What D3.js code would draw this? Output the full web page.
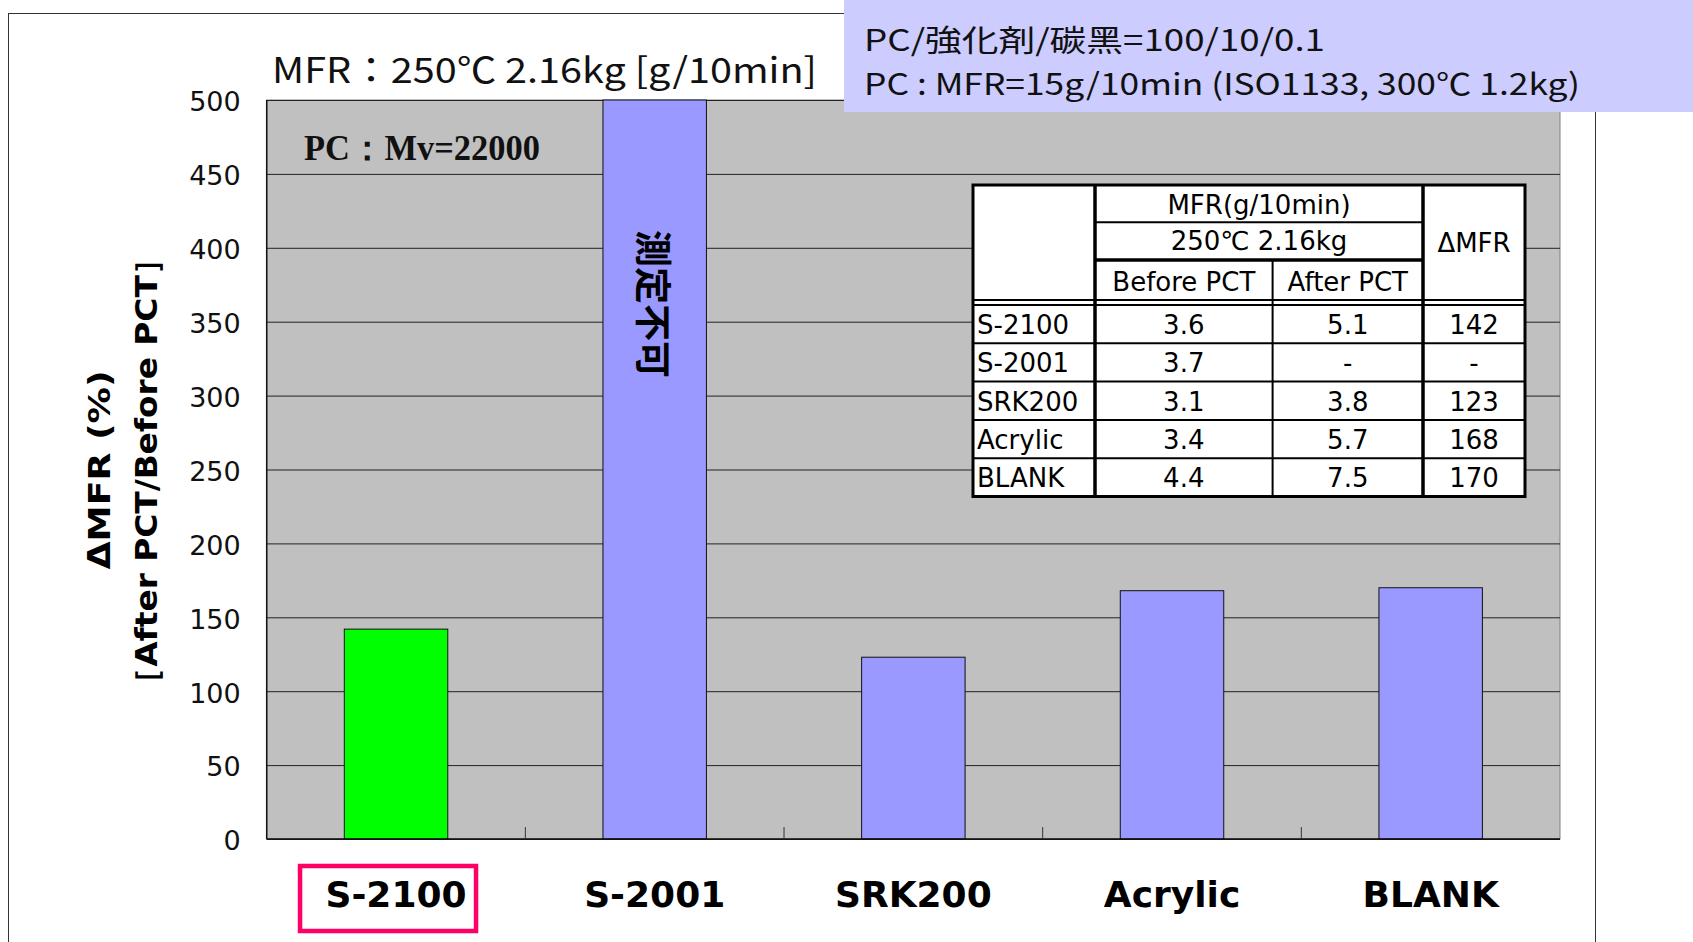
<!DOCTYPE html>
<html>
<head>
<meta charset="utf-8">
<script src="https://cdn.jsdelivr.net/npm/d3@7"></script>
<style>
  body { margin: 0; background: #fff; }
  svg { display: block; }
</style>
</head>
<body>
<div id="chart"></div>
<script>
// chart data
var categories = ['S-2100', 'S-2001', 'SRK200', 'Acrylic', 'BLANK'];
var deltaMfr = [142, null, 123, 168, 170];   // null = could not be measured
var yTicks = [0, 50, 100, 150, 200, 250, 300, 350, 400, 450, 500];

// inset table
var beforePct = ['3.6', '3.7', '3.1', '3.4', '4.4'];
var afterPct = ['5.1', '-', '3.8', '5.7', '7.5'];
var deltaText = ['142', '-', '123', '168', '170'];

var W = 1693, H = 942;
var margin = { top: 100, right: 133, bottom: 103, left: 266.7 },
  w = W - margin.left - margin.right,
  h = H - margin.top - margin.bottom;

var svg = d3.select('#chart').append('svg')
  .attr('width', W)
  .attr('height', H);

// outer frame
svg.append('rect')
  .attr('x', 8.5).attr('y', 13.5)
  .attr('width', 1587).attr('height', 960)
  .attr('fill', '#fff')
  .attr('stroke', '#333')
  .attr('stroke-width', 1);

var g = svg.append('g')
  .attr('transform', 'translate(' + margin.left + ',' + margin.top + ')');

var x = d3.scaleBand().domain(categories).range([0, w])
  .paddingInner(0.6).paddingOuter(0.3);
var y = d3.scaleLinear().domain([0, 500]).range([h, 0]);

// plot background
g.append('rect')
  .attr('width', w).attr('height', h)
  .attr('fill', '#c0c0c0')
  .attr('stroke', '#808080');

// gridlines + y tick labels
var yAxis = d3.axisLeft(y).tickValues(yTicks).tickSize(-w).tickPadding(26);
g.append('g')
  .call(yAxis)
  .call(function(s) {
    s.select('.domain').remove();
    s.selectAll('line').attr('stroke', '#222');
    s.selectAll('text')
      .attr('font-family', 'DejaVu Sans, Verdana, sans-serif')
      .attr('font-size', 27)
      .attr('dy', '0.4em')
      .attr('fill', '#111');
  });

// bars
g.selectAll('.bar')
  .data(categories)
  .enter().append('rect')
  .attr('class', 'bar')
  .attr('x', function(d) { return x(d); })
  .attr('width', x.bandwidth())
  .attr('y', function(d, i) { return deltaMfr[i] == null ? y(500) : y(deltaMfr[i]); })
  .attr('height', function(d, i) { return h - (deltaMfr[i] == null ? y(500) : y(deltaMfr[i])); })
  .attr('fill', function(d, i) { return i === 0 ? '#00ff00' : '#9999ff'; })
  .attr('stroke', '#111')
  .attr('stroke-width', 1);

// vertical note on the unmeasurable bar
categories.forEach(function(c, i) {
  if (deltaMfr[i] != null) return;
  g.append('text')
    .attr('transform', 'translate(' + (x(c) + x.bandwidth() / 2) + ',' + (y(500) + 130) + ') rotate(90)')
    .attr('dominant-baseline', 'central')
    .attr('font-family', 'Noto Sans CJK JP, sans-serif')
    .attr('font-weight', 'bold')
    .attr('font-size', 37)
    .attr('fill', '#000')
    .text('測定不可');
});

// axis lines
g.append('line').attr('x1', 0).attr('x2', 0).attr('y1', 0).attr('y2', h)
  .attr('stroke', '#111').attr('stroke-width', 1.5);
g.append('line').attr('x1', 0).attr('x2', w).attr('y1', h).attr('y2', h)
  .attr('stroke', '#111').attr('stroke-width', 1.5);

// category boundary ticks (pointing up)
d3.range(1, categories.length).forEach(function(k) {
  var bx = k * x.step();
  g.append('line').attr('x1', bx).attr('x2', bx).attr('y1', h).attr('y2', h - 12)
    .attr('stroke', '#333').attr('stroke-width', 1);
});

// x labels
var xAxis = d3.axisBottom(x).tickSize(0).tickPadding(42);
g.append('g')
  .attr('transform', 'translate(0,' + h + ')')
  .call(xAxis)
  .call(function(s) {
    s.select('.domain').remove();
    s.selectAll('text')
      .attr('font-family', 'DejaVu Sans, Verdana, sans-serif')
      .attr('font-weight', 'bold')
      .attr('font-size', 36)
      .attr('fill', '#000');
  });

// highlight box round the first label
var c0 = x(categories[0]) + x.bandwidth() / 2;
g.append('rect')
  .attr('x', c0 - 96).attr('y', h + 27)
  .attr('width', 176).attr('height', 65)
  .attr('fill', 'none')
  .attr('stroke', '#ff0066')
  .attr('stroke-width', 4.5);

// y axis title
var yTitle = svg.append('g')
  .attr('font-family', 'DejaVu Sans, Verdana, sans-serif')
  .attr('font-weight', 'bold')
  .attr('font-size', 31)
  .attr('fill', '#000');
yTitle.append('text')
  .attr('transform', 'translate(99,470) rotate(-90)')
  .attr('text-anchor', 'middle').attr('dominant-baseline', 'central')
  .attr('textLength', 199).attr('lengthAdjust', 'spacingAndGlyphs')
  .text('ΔMFR (%)');
yTitle.append('text')
  .attr('transform', 'translate(146,471) rotate(-90)')
  .attr('text-anchor', 'middle').attr('dominant-baseline', 'central')
  .attr('textLength', 457).attr('lengthAdjust', 'spacingAndGlyphs')
  .text('［After PCT/Before PCT］');

// chart title
svg.append('text')
  .attr('x', 272).attr('y', 83)
  .attr('font-family', 'Noto Sans CJK JP, sans-serif')
  .attr('font-size', 35)
  .attr('textLength', 545).attr('lengthAdjust', 'spacingAndGlyphs')
  .attr('fill', '#111')
  .text('MFR：250℃ 2.16kg [g/10min]');

// polymer note
svg.append('text')
  .attr('x', 304).attr('y', 160)
  .attr('font-family', 'Liberation Serif, Times New Roman, serif')
  .attr('font-weight', 'bold')
  .attr('font-size', 35)
  .attr('textLength', 236).attr('lengthAdjust', 'spacingAndGlyphs')
  .attr('fill', '#111')
  .text('PC：Mv=22000');

// formulation box (top right)
svg.append('rect')
  .attr('x', 844).attr('y', 0).attr('width', 849).attr('height', 112)
  .attr('fill', '#ccccff');
svg.append('text')
  .attr('x', 864).attr('y', 51)
  .attr('font-family', 'Noto Sans CJK JP, sans-serif')
  .attr('font-size', 30)
  .attr('textLength', 461).attr('lengthAdjust', 'spacingAndGlyphs')
  .attr('fill', '#111')
  .text('PC/強化剤/碳黑=100/10/0.1');
svg.append('text')
  .attr('x', 864).attr('y', 95)
  .attr('font-family', 'Noto Sans CJK JP, sans-serif')
  .attr('font-size', 30)
  .attr('textLength', 716).attr('lengthAdjust', 'spacingAndGlyphs')
  .attr('fill', '#111')
  .text('PC : MFR=15g/10min (ISO1133, 300℃  1.2kg)');

// inset table
var cx = [973, 1095, 1272.6, 1423, 1525];
var headRows = [185, 222.3, 260, 300];
var bodyTop = 305, rowH = 38.3;
var tBottom = bodyTop + rowH * categories.length;
var tbl = svg.append('g')
  .attr('font-family', 'DejaVu Sans, Verdana, sans-serif')
  .attr('font-size', 26)
  .attr('fill', '#000');

tbl.append('rect')
  .attr('x', cx[0]).attr('y', headRows[0])
  .attr('width', cx[4] - cx[0]).attr('height', tBottom - headRows[0])
  .attr('fill', '#fff');

function tline(x1, y1, x2, y2, sw) {
  tbl.append('line')
    .attr('x1', x1).attr('y1', y1).attr('x2', x2).attr('y2', y2)
    .attr('stroke', '#000').attr('stroke-width', sw);
}
// header lines
tline(cx[1], headRows[1], cx[3], headRows[1], 2);
tline(cx[1], headRows[2], cx[3], headRows[2], 3.5);
tline(cx[0], headRows[3], cx[4], headRows[3], 2);
tline(cx[0], bodyTop, cx[4], bodyTop, 2);
// body row lines
categories.forEach(function(c, i) {
  if (i > 0) tline(cx[0], bodyTop + i * rowH, cx[4], bodyTop + i * rowH, 2);
});
// verticals
tline(cx[1], headRows[0], cx[1], tBottom, 3.5);
tline(cx[2], headRows[2], cx[2], tBottom, 2);
tline(cx[3], headRows[0], cx[3], tBottom, 3.5);
// outer border
tbl.append('rect')
  .attr('x', cx[0]).attr('y', headRows[0])
  .attr('width', cx[4] - cx[0]).attr('height', tBottom - headRows[0])
  .attr('fill', 'none').attr('stroke', '#000').attr('stroke-width', 3);

function cell(tx, ty, s, anchor) {
  tbl.append('text')
    .attr('x', tx).attr('y', ty)
    .attr('text-anchor', anchor || 'middle')
    .attr('dominant-baseline', 'central')
    .text(s);
}
cell((cx[1] + cx[3]) / 2, (headRows[0] + headRows[1]) / 2 + 1, 'MFR(g/10min)');
cell((cx[1] + cx[3]) / 2, (headRows[1] + headRows[2]) / 2, '250℃ 2.16kg');
cell((cx[1] + cx[2]) / 2, (headRows[2] + headRows[3]) / 2 + 2, 'Before PCT');
cell((cx[2] + cx[3]) / 2, (headRows[2] + headRows[3]) / 2 + 2, 'After PCT');
cell((cx[3] + cx[4]) / 2, (headRows[0] + headRows[3]) / 2, 'ΔMFR');

categories.forEach(function(c, i) {
  var ry = bodyTop + i * rowH + rowH / 2 + 1;
  cell(cx[0] + 4, ry, c, 'start');
  cell((cx[1] + cx[2]) / 2, ry, beforePct[i]);
  cell((cx[2] + cx[3]) / 2, ry, afterPct[i]);
  cell((cx[3] + cx[4]) / 2, ry, deltaText[i]);
});
</script>
</body>
</html>
